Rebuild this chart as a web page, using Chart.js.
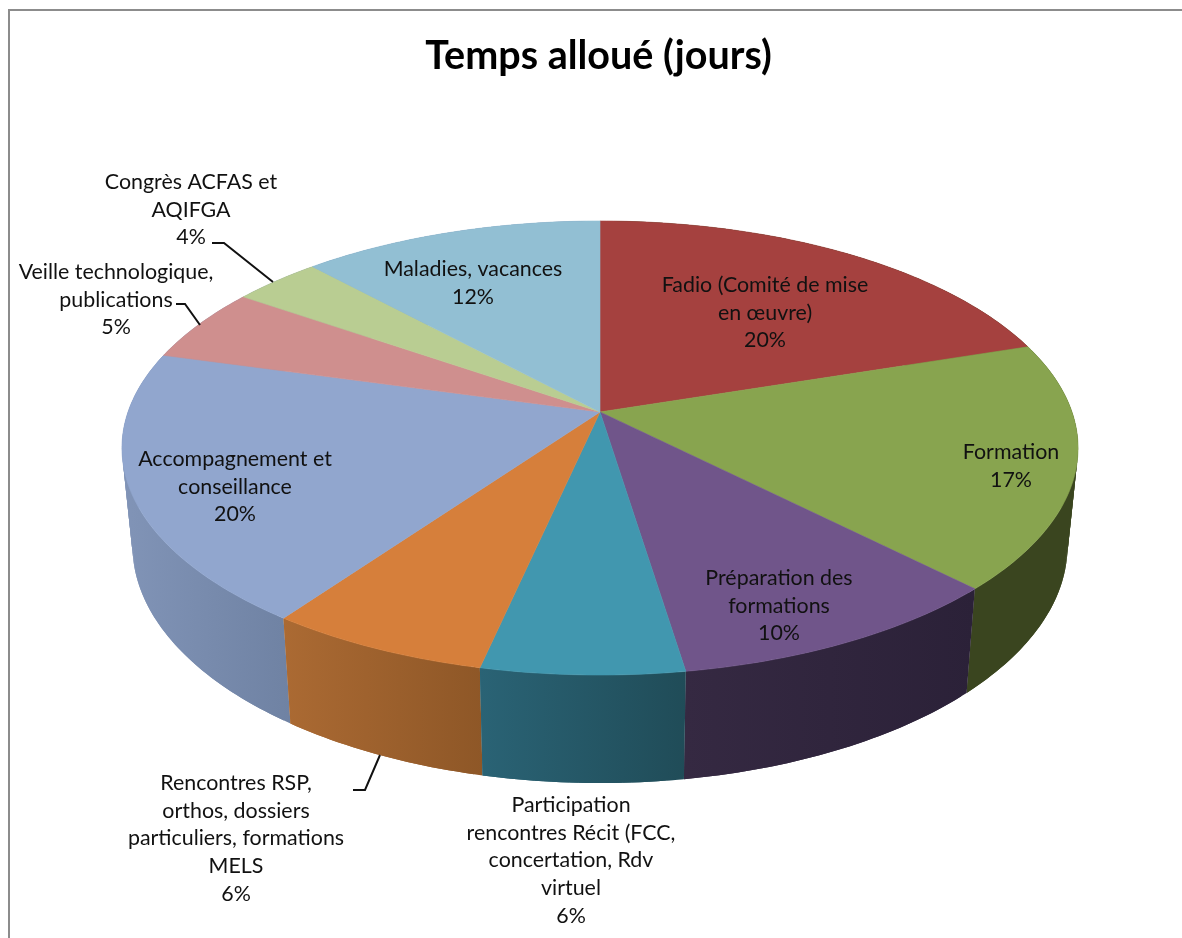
<!DOCTYPE html>
<html>
<head>
<meta charset="utf-8">
<title>Temps alloué (jours)</title>
<script src="https://cdn.jsdelivr.net/npm/chart.js@4"></script>
<style>
    html, body { margin: 0; padding: 0; background: #fff; overflow: hidden; }
    canvas { display: block; }
</style>
</head>
<body>
<canvas id="piechart" width="1182" height="938"></canvas>
<script>
// values, in % of the allocated days (slice angles)
const categories = [
    'Fadio (Comité de mise en œuvre)',
    'Formation',
    'Préparation des formations',
    'Participation rencontres Récit (FCC, concertation, Rdv virtuel',
    'Rencontres RSP, orthos, dossiers particuliers, formations MELS',
    'Accompagnement et conseillance',
    'Veille technologique, publications',
    'Congrès ACFAS et AQIFGA',
    'Maladies, vacances'
];
const sliceValues = [20, 17.55, 10, 5.9, 6.48, 19.37, 5.3, 3.5, 11.9];
const percentLabels = ['20%', '17%', '10%', '6%', '6%', '20%', '5%', '4%', '12%'];

const topColors = ['#A5413F', '#88A44F', '#70558A', '#4197AF', '#D67F3B', '#91A6CE', '#CF8F8E', '#B9CD92', '#92BFD3'];
const wallColors = [
    ['#3A451F', '#3A451F'],
    ['#3A451F', '#3A451F'],
    ['#352942', '#2B2138'],
    ['#2A6375', '#204C58'],
    ['#AB6A33', '#8E5727'],
    ['#8194B7', '#6F82A3'],
    ['#8194B7', '#8194B7'],
    ['#8194B7', '#8194B7'],
    ['#8194B7', '#8194B7']
];

// wrapped label lines and where the block goes (centre x, first line y)
const labelLines = [
    ['Fadio (Comité de mise', 'en œuvre)'],
    ['Formation'],
    ['Préparation des', 'formations'],
    ['Participation', 'rencontres Récit (FCC,', 'concertation, Rdv', 'virtuel'],
    ['Rencontres RSP,', 'orthos, dossiers', 'particuliers, formations', 'MELS'],
    ['Accompagnement et', 'conseillance'],
    ['Veille technologique,', 'publications'],
    ['Congrès ACFAS et', 'AQIFGA'],
    ['Maladies, vacances']
];
const labelAnchors = [
    [765, 285], [1011, 452], [779, 578], [571, 805], [236, 783],
    [235, 459], [116, 272], [191, 182], [473, 269]
];
const leaderLines = [
    [[212, 243], [224, 243], [273, 282]],
    [[176, 304], [185, 304], [200, 325]],
    [[353, 790], [365, 790], [380, 755]]
];

// tilted disc, apex of the pie at (cx, cy)
const cx = 600;
const cy = 412;
const rx = 472;
const ry = 221.3;
const persp = 0.1586;
const LABEL_FONT = '21.4px Lato';
const LINE_H = 27.7;

function topPoint(theta) {
    const X = Math.sin(theta);
    const Y = -Math.cos(theta);
    const w = 1 - persp * Y;
    return [cx + rx * X / w, cy + ry * Y / w];
}

function bottomPoint(theta) {
    const p = topPoint(theta);
    return [cx + 0.978 * (p[0] - cx), 692 + 1.046 * (p[1] - 588)];
}

const pie3d = {
    id: 'pie3d',
    beforeDatasetsDraw(chart) {
        const ctx = chart.ctx;
        const arcs = chart.getDatasetMeta(0).data;
        const slices = arcs.map((arc, i) => {
            const start = arc.startAngle + Math.PI / 2;
            const end = arc.endAngle + Math.PI / 2;
            const pts = [];
            const n = Math.max(2, Math.ceil((end - start) * 60));
            for (let j = 0; j <= n; ++j) {
                pts.push(start + (end - start) * j / n);
            }
            return { i, start, end, pts };
        });

        // walls, back ones first; quads overlap by one step so there are no seams
        const depth = (s) => -Math.cos((s.start + s.end) / 2);
        slices.slice().sort((a, b) => depth(a) - depth(b)).forEach((s) => {
            const top = s.pts.map(topPoint);
            const bottom = s.pts.map(bottomPoint);
            const xs = top.concat(bottom).map((p) => p[0]);
            const grad = ctx.createLinearGradient(Math.min(...xs), 0, Math.max(...xs), 0);
            grad.addColorStop(0, wallColors[s.i][0]);
            grad.addColorStop(1, wallColors[s.i][1]);
            ctx.fillStyle = grad;
            for (let k = 0; k < top.length - 1; ++k) {
                const next = Math.min(k + 2, top.length - 1);
                ctx.beginPath();
                ctx.moveTo(top[k][0], top[k][1]);
                ctx.lineTo(top[k + 1][0], top[k + 1][1]);
                ctx.lineTo(top[next][0], top[next][1]);
                ctx.lineTo(bottom[next][0], bottom[next][1]);
                ctx.lineTo(bottom[k + 1][0], bottom[k + 1][1]);
                ctx.lineTo(bottom[k][0], bottom[k][1]);
                ctx.closePath();
                ctx.fill();
            }
        });

        // top face
        slices.forEach((s) => {
            ctx.beginPath();
            ctx.moveTo(cx, cy);
            s.pts.map(topPoint).forEach((p) => ctx.lineTo(p[0], p[1]));
            ctx.closePath();
            ctx.fillStyle = topColors[s.i];
            ctx.strokeStyle = topColors[s.i];
            ctx.lineWidth = 0.6;
            ctx.fill();
            ctx.stroke();
        });
        return false;
    },
    afterDraw(chart) {
        const ctx = chart.ctx;
        ctx.save();

        // frame of the original picture
        ctx.strokeStyle = '#8C8C8C';
        ctx.lineWidth = 2;
        ctx.beginPath();
        ctx.moveTo(9, 938);
        ctx.lineTo(9, 10);
        ctx.lineTo(1182, 10);
        ctx.stroke();

        ctx.strokeStyle = '#111';
        ctx.lineWidth = 2;
        leaderLines.forEach((line) => {
            ctx.beginPath();
            line.forEach((p, k) => k ? ctx.lineTo(p[0], p[1]) : ctx.moveTo(p[0], p[1]));
            ctx.stroke();
        });

        ctx.fillStyle = '#111';
        ctx.font = LABEL_FONT;
        ctx.textAlign = 'center';
        ctx.textBaseline = 'middle';
        labelLines.forEach((lines, i) => {
            lines.concat(percentLabels[i]).forEach((text, k) => {
                ctx.fillText(text, labelAnchors[i][0], labelAnchors[i][1] + k * LINE_H);
            });
        });
        ctx.restore();
    }
};

new Chart(document.getElementById('piechart'), {
    type: 'pie',
    data: {
        labels: categories,
        datasets: [{ data: sliceValues, backgroundColor: topColors, borderWidth: 0 }]
    },
    options: {
        responsive: false,
        animation: false,
        layout: { padding: { left: 15 } },
        plugins: {
            legend: { display: false },
            tooltip: { enabled: false },
            title: {
                display: true,
                text: 'Temps alloué (jours)',
                color: '#000',
                font: { family: 'Lato', size: 39.5, weight: 'bold' },
                padding: { top: 33, bottom: 20 }
            }
        }
    },
    plugins: [pie3d]
});
</script>
</body>
</html>
